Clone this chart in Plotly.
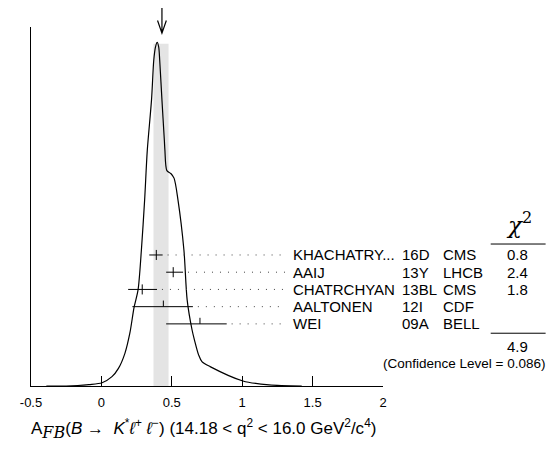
import plotly.graph_objects as go

# ideogram curve (A_FB value, relative height)
curve_x = [-0.391, -0.251, -0.089, 0.005, 0.075, 0.121, 0.167, 0.202, 0.232, 0.260,
           0.284, 0.307, 0.326, 0.356, 0.372, 0.384, 0.396, 0.407, 0.414, 0.430,
           0.447, 0.451, 0.465, 0.493, 0.516, 0.544, 0.586, 0.609, 0.644, 0.661,
           0.691, 0.714, 0.772, 1.005, 1.191, 1.423]
curve_y = [0.0, 0.0, 0.004, 0.009, 0.026, 0.049, 0.091, 0.147, 0.219, 0.267,
           0.379, 0.518, 0.657, 0.797, 0.908, 0.944, 0.957, 0.944, 0.908, 0.797,
           0.685, 0.657, 0.600, 0.592, 0.579, 0.518, 0.379, 0.240, 0.156, 0.128,
           0.086, 0.068, 0.054, 0.014, 0.003, 0.0]

# measurements
names = ["KHACHATRY...", "AAIJ", "CHATRCHYAN", "AALTONEN", "WEI"]
years = ["16D", "13Y", "13BL", "12I", "09A"]
exps = ["CMS", "LHCB", "CMS", "CDF", "BELL"]
values = [0.39, 0.51, 0.29, 0.44, 0.70]
err_lo = [0.05, 0.05, 0.10, 0.22, 0.24]
err_hi = [0.045, 0.07, 0.105, 0.21, 0.19]
chi2 = ["0.8", "2.4", "1.8", "", ""]
used = [True, True, True, False, False]

avg = 0.43
band_lo, band_hi = 0.37, 0.477
chi2_total = "4.9"
conf_level = "0.086"

tick_vals = [-0.5, 0, 0.5, 1, 1.5, 2]
tick_text = ["-0.5", "0", "0.5", "1", "1.5", "2"]

xmin, xmax = -0.5, 2.0
FONT = "Liberation Sans, Arial, sans-serif"


def px(v):
    # data x -> paper x
    return (v - xmin) / (xmax - xmin)


fig = go.Figure()

fig.add_trace(go.Scatter(x=curve_x, y=curve_y, mode="lines",
                         line=dict(color="black", width=1.2, shape="spline", smoothing=0.8),
                         hoverinfo="skip"))

row0, dy = 0.365, 0.048
tk = 0.014
ex, ey, dx_, dy_ = [], [], [], []
for i, v in enumerate(values):
    y = row0 - i * dy
    ex += [v - err_lo[i], v + err_hi[i], None]
    ey += [y, y, None]
    if used[i]:
        ex += [v, v, None]
        ey += [y - tk, y + tk, None]
    else:
        ex += [v, v, None]
        ey += [y, y + 0.017, None]
    dx_ += [v + err_hi[i] + 0.035, 1.305, None]
    dy_ += [y, y, None]

fig.add_trace(go.Scatter(x=dx_, y=dy_, mode="lines",
                         line=dict(color="#444444", width=1, dash="1px,7px"),
                         hoverinfo="skip"))
fig.add_trace(go.Scatter(x=ex, y=ey, mode="lines",
                         line=dict(color="black", width=1), hoverinfo="skip"))

# average band
fig.add_shape(type="rect", xref="x", yref="y", x0=band_lo, x1=band_hi, y0=0, y1=0.953,
              fillcolor="#e4e4e4", line=dict(width=0), layer="below")

# arrow at the average
ax = px(avg)
hx, hy = 0.0125, 0.035
fig.add_shape(type="path", xref="paper", yref="paper",
              path=f"M{ax},1.076 L{ax},0.983 M{ax-hx},{0.983+hy} L{ax},0.983 L{ax+hx},{0.983+hy}",
              line=dict(color="black", width=1.2))

annots = []
for i in range(len(names)):
    y = row0 - i * dy
    annots.append(dict(x=0.739, y=y, text=names[i], xanchor="left"))
    annots.append(dict(x=1.049, y=y, text=years[i], xanchor="left"))
    annots.append(dict(x=1.166, y=y, text=exps[i], xanchor="left"))
    if chi2[i]:
        annots.append(dict(x=1.383, y=y, text=chi2[i], xanchor="center"))
annots.append(dict(x=1.383, y=0.111, text=chi2_total, xanchor="center"))
for a in annots:
    a.update(xref="paper", yref="y", yanchor="middle", showarrow=False,
             font=dict(family=FONT, size=15, color="black"))
annots.append(dict(x=1.465, y=0.063, xref="paper", yref="y", xanchor="right", yanchor="middle",
                   showarrow=False, text=f"(Confidence Level = {conf_level})",
                   font=dict(family=FONT, size=13.5, color="black")))
annots.append(dict(x=1.385, y=0.455, xref="paper", yref="y", text="<i>χ</i><sup>2</sup>",
                   showarrow=False, xanchor="center", yanchor="middle",
                   font=dict(family="DejaVu Serif, serif", size=23, color="black")))
annots.append(dict(x=-0.005, y=-0.12, xref="paper", yref="paper", xanchor="left", yanchor="middle",
                   showarrow=False,
                   text="A<sub><i><span style='font-family:DejaVu Serif;font-size:16px'>FB</span></i></sub>"
                        "(<i>B</i> →&nbsp;&nbsp;<i>K</i><sup>*</sup><i>ℓ</i><sup>+</sup>&nbsp;<i>ℓ</i><sup>−</sup>)"
                        " (14.18 < q<sup>2</sup> < 16.0 GeV<sup>2</sup>/c<sup>4</sup>)",
                   font=dict(family=FONT, size=17, color="black")))

for y0 in [0.3955, 0.147]:
    fig.add_shape(type="line", xref="paper", yref="y", x0=1.306, x1=1.462, y0=y0, y1=y0,
                  line=dict(color="black", width=1))

# page body adds 8px margin, so the figure is sized to the visible area
fig.update_layout(
    width=548, height=441,
    margin=dict(l=16, r=173, t=19, b=63),
    plot_bgcolor="white", paper_bgcolor="white",
    showlegend=False,
    annotations=annots,
    xaxis=dict(range=[xmin, xmax], tickvals=tick_vals, ticktext=tick_text,
               ticks="inside", ticklen=10, tickcolor="black", tickwidth=1,
               showline=True, linecolor="black", linewidth=1,
               showgrid=False, zeroline=False, ticklabelstandoff=4,
               tickfont=dict(family=FONT, size=13, color="black")),
    yaxis=dict(range=[0, 1], showline=True, linecolor="black", linewidth=1,
               showgrid=False, zeroline=False, showticklabels=False, ticks=""),
)

fig.write_html("out.html")
